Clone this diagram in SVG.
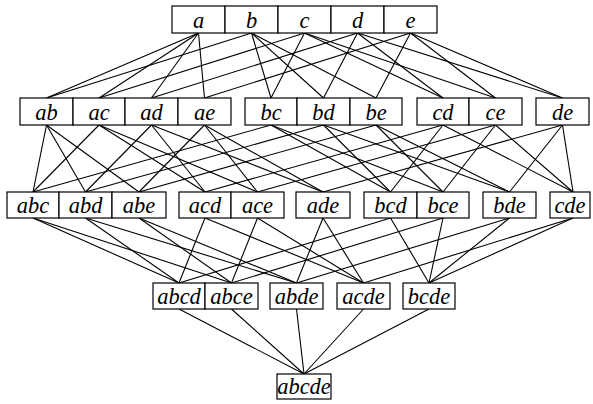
<svg xmlns="http://www.w3.org/2000/svg" width="593" height="404" viewBox="0 0 593 404">
<style>
.b{fill:#fff;stroke:#000;stroke-width:1.2}
.t{font-family:"Liberation Serif","Times New Roman",serif;font-style:italic;font-size:22.5px;text-anchor:middle;fill:#000}
#edges line{stroke:#000;stroke-width:1.1}
</style>
<rect width="593" height="404" fill="#fff"/>
<g id="edges">
<!-- row1 -> row2 -->
<line x1="198.5" y1="33" x2="46.5" y2="98"/><line x1="198.5" y1="33" x2="99" y2="98"/><line x1="198.5" y1="33" x2="151.5" y2="98"/><line x1="198.5" y1="33" x2="204.5" y2="98"/>
<line x1="251.5" y1="33" x2="46.5" y2="98"/><line x1="251.5" y1="33" x2="271" y2="98"/><line x1="251.5" y1="33" x2="323.5" y2="98"/><line x1="251.5" y1="33" x2="376" y2="98"/>
<line x1="304.5" y1="33" x2="99" y2="98"/><line x1="304.5" y1="33" x2="271" y2="98"/><line x1="304.5" y1="33" x2="443" y2="98"/><line x1="304.5" y1="33" x2="495.5" y2="98"/>
<line x1="357.5" y1="33" x2="151.5" y2="98"/><line x1="357.5" y1="33" x2="323.5" y2="98"/><line x1="357.5" y1="33" x2="443" y2="98"/><line x1="357.5" y1="33" x2="562.5" y2="98"/>
<line x1="410.5" y1="33" x2="204.5" y2="98"/><line x1="410.5" y1="33" x2="376" y2="98"/><line x1="410.5" y1="33" x2="495.5" y2="98"/><line x1="410.5" y1="33" x2="562.5" y2="98"/>
<!-- row2 -> row3 -->
<line x1="46.5" y1="125" x2="33" y2="192"/><line x1="46.5" y1="125" x2="85.5" y2="192"/><line x1="46.5" y1="125" x2="139" y2="192"/>
<line x1="99" y1="125" x2="33" y2="192"/><line x1="99" y1="125" x2="205" y2="192"/><line x1="99" y1="125" x2="257.5" y2="192"/>
<line x1="151.5" y1="125" x2="85.5" y2="192"/><line x1="151.5" y1="125" x2="205" y2="192"/><line x1="151.5" y1="125" x2="323" y2="192"/>
<line x1="204.5" y1="125" x2="139" y2="192"/><line x1="204.5" y1="125" x2="257.5" y2="192"/><line x1="204.5" y1="125" x2="323" y2="192"/>
<line x1="271" y1="125" x2="33" y2="192"/><line x1="271" y1="125" x2="390.5" y2="192"/><line x1="271" y1="125" x2="443" y2="192"/>
<line x1="323.5" y1="125" x2="85.5" y2="192"/><line x1="323.5" y1="125" x2="390.5" y2="192"/><line x1="323.5" y1="125" x2="509.5" y2="192"/>
<line x1="376" y1="125" x2="139" y2="192"/><line x1="376" y1="125" x2="443" y2="192"/><line x1="376" y1="125" x2="509.5" y2="192"/>
<line x1="443" y1="125" x2="205" y2="192"/><line x1="443" y1="125" x2="390.5" y2="192"/><line x1="443" y1="125" x2="573" y2="192"/>
<line x1="495.5" y1="125" x2="257.5" y2="192"/><line x1="495.5" y1="125" x2="443" y2="192"/><line x1="495.5" y1="125" x2="573" y2="192"/>
<line x1="562.5" y1="125" x2="323" y2="192"/><line x1="562.5" y1="125" x2="509.5" y2="192"/><line x1="562.5" y1="125" x2="573" y2="192"/>
<!-- row3 -> row4 -->
<line x1="33" y1="218" x2="179" y2="283"/><line x1="33" y1="218" x2="231.5" y2="283"/>
<line x1="85.5" y1="218" x2="179" y2="283"/><line x1="85.5" y1="218" x2="296.5" y2="283"/>
<line x1="139" y1="218" x2="231.5" y2="283"/><line x1="139" y1="218" x2="296.5" y2="283"/>
<line x1="205" y1="218" x2="179" y2="283"/><line x1="205" y1="218" x2="363.5" y2="283"/>
<line x1="257.5" y1="218" x2="231.5" y2="283"/><line x1="257.5" y1="218" x2="363.5" y2="283"/>
<line x1="323" y1="218" x2="296.5" y2="283"/><line x1="323" y1="218" x2="363.5" y2="283"/>
<line x1="390.5" y1="218" x2="179" y2="283"/><line x1="390.5" y1="218" x2="429" y2="283"/>
<line x1="443" y1="218" x2="231.5" y2="283"/><line x1="443" y1="218" x2="429" y2="283"/>
<line x1="509.5" y1="218" x2="296.5" y2="283"/><line x1="509.5" y1="218" x2="429" y2="283"/>
<line x1="573" y1="218" x2="363.5" y2="283"/><line x1="573" y1="218" x2="429" y2="283"/>
<!-- row4 -> row5 -->
<line x1="179" y1="309" x2="304" y2="374"/><line x1="231.5" y1="309" x2="304" y2="374"/><line x1="296.5" y1="309" x2="304" y2="374"/><line x1="363.5" y1="309" x2="304" y2="374"/><line x1="429" y1="309" x2="304" y2="374"/>
</g>
<!-- row 1 -->
<g id="a"><rect class="b" x="172" y="6" width="53" height="27"/><text class="t" x="198.5" y="27.5">a</text></g>
<g id="b"><rect class="b" x="225" y="6" width="53" height="27"/><text class="t" x="251.5" y="27.5">b</text></g>
<g id="c"><rect class="b" x="278" y="6" width="53" height="27"/><text class="t" x="304.5" y="27.5">c</text></g>
<g id="d"><rect class="b" x="331" y="6" width="53" height="27"/><text class="t" x="357.5" y="27.5">d</text></g>
<g id="e"><rect class="b" x="384" y="6" width="53" height="27"/><text class="t" x="410.5" y="27.5">e</text></g>
<!-- row 2 -->
<g id="ab"><rect class="b" x="20" y="98" width="53" height="27"/><text class="t" x="46.5" y="119.5">ab</text></g>
<g id="ac"><rect class="b" x="73" y="98" width="52" height="27"/><text class="t" x="99" y="119.5">ac</text></g>
<g id="ad"><rect class="b" x="125" y="98" width="53" height="27"/><text class="t" x="151.5" y="119.5">ad</text></g>
<g id="ae"><rect class="b" x="178" y="98" width="53" height="27"/><text class="t" x="204.5" y="119.5">ae</text></g>
<g id="bc"><rect class="b" x="245" y="98" width="52" height="27"/><text class="t" x="271" y="119.5">bc</text></g>
<g id="bd"><rect class="b" x="297" y="98" width="53" height="27"/><text class="t" x="323.5" y="119.5">bd</text></g>
<g id="be"><rect class="b" x="350" y="98" width="52" height="27"/><text class="t" x="376" y="119.5">be</text></g>
<g id="cd"><rect class="b" x="417" y="98" width="52" height="27"/><text class="t" x="443" y="119.5">cd</text></g>
<g id="ce"><rect class="b" x="469" y="98" width="53" height="27"/><text class="t" x="495.5" y="119.5">ce</text></g>
<g id="de"><rect class="b" x="536" y="98" width="53" height="27"/><text class="t" x="562.5" y="119.5">de</text></g>
<!-- row 3 -->
<g id="abc"><rect class="b" x="7" y="192" width="52" height="26"/><text class="t" x="33" y="212.5">abc</text></g>
<g id="abd"><rect class="b" x="59" y="192" width="53" height="26"/><text class="t" x="85.5" y="212.5">abd</text></g>
<g id="abe"><rect class="b" x="112" y="192" width="54" height="26"/><text class="t" x="139" y="212.5">abe</text></g>
<g id="acd"><rect class="b" x="179" y="192" width="52" height="26"/><text class="t" x="205" y="212.5">acd</text></g>
<g id="ace"><rect class="b" x="231" y="192" width="53" height="26"/><text class="t" x="257.5" y="212.5">ace</text></g>
<g id="ade"><rect class="b" x="296" y="192" width="54" height="26"/><text class="t" x="323" y="212.5">ade</text></g>
<g id="bcd"><rect class="b" x="364" y="192" width="53" height="26"/><text class="t" x="390.5" y="212.5">bcd</text></g>
<g id="bce"><rect class="b" x="417" y="192" width="52" height="26"/><text class="t" x="443" y="212.5">bce</text></g>
<g id="bde"><rect class="b" x="483" y="192" width="53" height="26"/><text class="t" x="509.5" y="212.5">bde</text></g>
<g id="cde"><rect class="b" x="550" y="192" width="40" height="26"/><text class="t" x="570" y="212.5">cde</text></g>
<!-- row 4 -->
<g id="abcd"><rect class="b" x="153" y="283" width="52" height="26"/><text class="t" x="179" y="303.5">abcd</text></g>
<g id="abce"><rect class="b" x="205" y="283" width="53" height="26"/><text class="t" x="231.5" y="303.5">abce</text></g>
<g id="abde"><rect class="b" x="270" y="283" width="53" height="26"/><text class="t" x="296.5" y="303.5">abde</text></g>
<g id="acde"><rect class="b" x="337" y="283" width="53" height="26"/><text class="t" x="363.5" y="303.5">acde</text></g>
<g id="bcde"><rect class="b" x="403" y="283" width="52" height="26"/><text class="t" x="429" y="303.5">bcde</text></g>
<!-- row 5 -->
<g id="abcde"><rect class="b" x="277" y="374" width="54" height="25"/><text class="t" x="304" y="393.5">abcde</text></g>
</svg>
